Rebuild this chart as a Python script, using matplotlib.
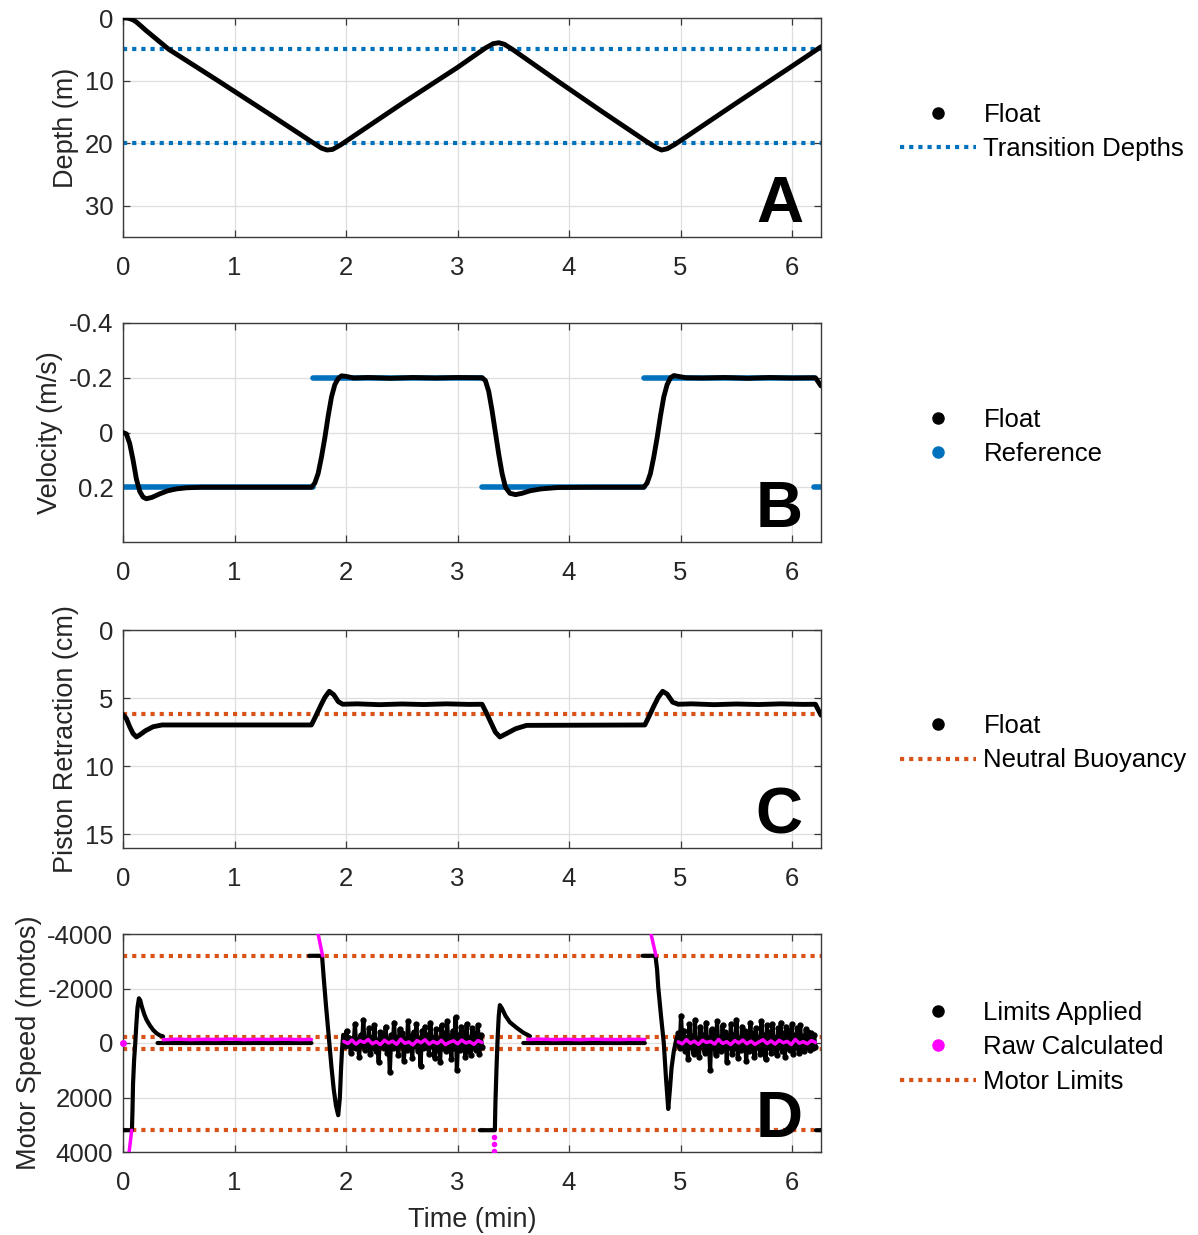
import numpy as np
import matplotlib
matplotlib.use("Agg")
import matplotlib.pyplot as plt
from matplotlib.lines import Line2D

plt.rcParams['font.family'] = ['Liberation Sans', 'DejaVu Sans']
plt.rcParams['axes.unicode_minus'] = False

BLUE = '#0072BD'
ORANGE = '#D95319'
MAGENTA = '#FF00FF'
DARK = '#262626'

# ---------------- Panel A: depth ----------------
depth_t = [0, 0.03, 0.06, 0.09, 0.12, 0.15, 0.2, 0.41, 0.85, 1.3, 1.71, 1.78, 1.83, 1.88, 1.95, 2.05, 2.5, 3.0,
           3.25, 3.32, 3.37, 3.42, 3.5, 3.9, 4.3, 4.7, 4.78, 4.83, 4.88, 4.95, 5.05, 5.5, 6.0, 6.26]
depth_v = [0, 0.0, 0.1, 0.3, 0.65, 1.1, 1.9, 5.0, 10.0, 15.2, 20.0, 20.8, 21.1, 21.0, 20.3, 19.1, 13.7, 7.9,
           4.8, 4.1, 3.95, 4.2, 5.1, 10.1, 15.0, 19.8, 20.7, 21.1, 20.9, 20.2, 19.0, 13.6, 7.7, 4.6]
transition_depths = [5, 20]

# ---------------- Panel B: velocity ----------------
vel_t = [0, 0.03, 0.06, 0.09, 0.12, 0.15, 0.18, 0.21, 0.26, 0.33, 0.40, 0.48, 0.57, 0.7, 1.0, 1.3, 1.69,
         1.72, 1.75, 1.78, 1.81, 1.84, 1.87, 1.90, 1.93, 1.96, 2.0, 2.07, 2.2, 2.4, 2.6, 2.8, 3.0, 3.22,
         3.25, 3.28, 3.31, 3.34, 3.37, 3.40, 3.43, 3.47, 3.52, 3.58, 3.65, 3.75, 3.9, 4.2, 4.5, 4.67,
         4.70, 4.73, 4.76, 4.79, 4.82, 4.85, 4.88, 4.91, 4.94, 4.98, 5.05, 5.2, 5.4, 5.6, 5.8, 6.0, 6.21, 6.26]
vel_v = [0, 0.005, 0.04, 0.10, 0.17, 0.215, 0.236, 0.242, 0.237, 0.224, 0.213, 0.206, 0.202, 0.2, 0.2, 0.2, 0.2,
         0.185, 0.15, 0.09, 0.02, -0.06, -0.13, -0.175, -0.197, -0.207, -0.205, -0.199, -0.201, -0.198, -0.201, -0.199, -0.201, -0.2,
         -0.19, -0.15, -0.08, 0.0, 0.08, 0.15, 0.2, 0.222, 0.227, 0.222, 0.213, 0.206, 0.201, 0.2, 0.2, 0.2,
         0.185, 0.15, 0.09, 0.02, -0.06, -0.13, -0.175, -0.2, -0.208, -0.205, -0.2, -0.199, -0.201, -0.198, -0.201, -0.199, -0.2, -0.17]
ref_start = [0, 1.70, 3.22, 4.67, 6.20]
ref_end = [1.70, 3.22, 4.67, 6.20, 6.26]
ref_v = [0.2, -0.2, 0.2, -0.2, 0.2]

# ---------------- Panel C: piston ----------------
pis_t = [0, 0.03, 0.06, 0.09, 0.12, 0.15, 0.2, 0.27, 0.35, 1.69, 1.73, 1.77, 1.81, 1.85, 1.89, 1.93, 1.97,
         2.1, 2.3, 2.5, 2.7, 2.9, 3.1, 3.22, 3.26, 3.30, 3.34, 3.38, 3.44, 3.52, 3.62, 4.68, 4.72, 4.76, 4.80,
         4.84, 4.88, 4.93, 4.98, 5.1, 5.3, 5.5, 5.7, 5.9, 6.1, 6.21, 6.26]
pis_v = [6.2, 6.5, 7.1, 7.6, 7.85, 7.7, 7.4, 7.1, 6.97, 6.97, 6.3, 5.6, 4.95, 4.5, 4.75, 5.25, 5.45,
         5.42, 5.48, 5.43, 5.47, 5.42, 5.46, 5.45, 6.1, 6.8, 7.5, 7.85, 7.6, 7.25, 7.0, 6.97, 6.3, 5.6, 4.95,
         4.5, 4.7, 5.3, 5.45, 5.42, 5.48, 5.43, 5.47, 5.42, 5.46, 5.45, 6.25]
neutral_buoyancy = 6.17

# ---------------- Panel D: motor speed ----------------
motor_limits = [-3200, -210, 210, 3200]
lim_a_t = [0, 0.08, 0.085, 0.09, 0.10, 0.11, 0.12, 0.13, 0.143, 0.155, 0.17, 0.19, 0.21, 0.24, 0.27, 0.30, 0.33, 0.36]
lim_a_v = [3200, 3200, 2500, 1500, 600, 0, -700, -1300, -1640, -1560, -1320, -1060, -860, -650, -480, -360, -280, -240]
lim_zero1_t = [0.31, 1.69]
lim_b_t = [1.67, 1.785, 1.80, 1.82, 1.85, 1.87, 1.89, 1.91, 1.93, 1.945, 1.955, 1.965, 1.975]
lim_b_v = [-3200, -3200, -2400, -1400, 0, 900, 1700, 2300, 2650, 2000, 1000, 200, -300]
noise1_span = [1.98, 3.22]
noise1 = [-150, 120, -450, 80, -200, 350, -100, 150, -700, 200,
          -120, 500, -300, 100, -850, 250, -150, 90, -550, 400,
          -200, 150, -650, 300, -100, 700, -400, 120, -250, 180,
          -600, 350, -150, 1050, -300, 200, -750, 150, -200, 450,
          -500, 100, -350, 650, -150, 250, -800, 180, -250, 550,
          -400, 120, -700, 300, -150, 850, -450, 200, -600, 150,
          -300, 400, -750, 120, -200, 550, -500, 250, -150, 700,
          -650, 180, -350, 300, -800, 150, -250, 600, -450, 200,
          -950, 1000, -300, 250, -600, 150, -400, 500, -700, 300,
          -200, 450, -550, 150, -350, 250, -650, 400, -300, 150]
lim_c_t = [3.20, 3.335, 3.34, 3.35, 3.36, 3.37, 3.38, 3.40, 3.43, 3.47, 3.53, 3.59, 3.65]
lim_c_v = [3200, 3200, 2200, 900, -200, -1000, -1390, -1260, -1000, -760, -560, -380, -250]
lim_zero2_t = [3.59, 4.68]
lim_d_t = [4.66, 4.775, 4.79, 4.80, 4.825, 4.85, 4.87, 4.89, 4.905, 4.92, 4.94, 4.96]
lim_d_v = [-3200, -3200, -2700, -2060, -1000, 0, 1300, 2420, 1700, 900, 300, -100]
noise2_span = [4.98, 6.21]
noise2 = [-350, 200, -1000, 150, -450, 300, -200, 600, -700, 150,
          -250, 400, -850, 250, -150, 500, -600, 120, -300, 350,
          -750, 200, -200, 1000, -500, 150, -350, 450, -800, 250,
          -150, 300, -650, 180, -400, 700, -250, 150, -700, 400,
          -300, 200, -850, 550, -150, 250, -600, 150, -450, 650,
          -250, 300, -750, 200, -350, 500, -550, 150, -200, 400,
          -800, 250, -300, 600, -650, 150, -400, 350, -700, 200,
          -200, 450, -550, 150, -750, 300, -350, 500, -600, 200,
          -450, 250, -700, 400, -300, 150, -550, 350, -650, 200,
          -250, 300, -500, 150, -400, 250, -350, 200, -300, 150]
lim_e_t = [6.215, 6.26]
lim_e_v = [3200, 3200]

raw_start_t = [0]
raw_start_v = [0]
raw_a_t = [0.026, 0.078]
raw_a_v = [5000, 3200]
raw_flat1_span = [0.36, 1.69]
raw_flat1 = [-120, -140, -125, -135, -130, -145, -125, -135, -130, -140, -125, -130]
raw_b_t = [1.70, 1.79]
raw_b_v = [-5000, -3200]
raw_noise1 = [-60, 20, -110, 40, -80, -20, -130, 30, -50, 60, -100, 0, -70, 50, -140, 10, -40, 70,
              -90, -10, -120, 40, -60, 20, -100, 60, -30, -80, 30, -110, 0, -50, 50, -90, -20]
raw_drop_t = [3.33, 3.33, 3.33]
raw_drop_v = [3450, 3700, 3950]
raw_flat2_span = [3.63, 4.68]
raw_flat2 = [-130, -140, -125, -135, -120, -140, -130, -125, -135, -130]
raw_c_t = [4.68, 4.78]
raw_c_v = [-5000, -3200]
raw_noise2 = [-40, 30, -120, 10, -70, 50, -100, -20, -60, 40, -130, 20, -50, 60, -90, 0, -110, 30,
              -70, 50, -40, -120, 20, -80, 40, -100, -10, -60, 60, -130, 10, -50, 30, -90, -20]

XMAX = 6.26

fig = plt.figure(figsize=(11.98, 12.35), dpi=100)
L, W = 123 / 1198, 698 / 1198
rows = [(18, 237), (323, 542), (630, 848), (934, 1152)]
axes = []
for top, bot in rows:
    ax = fig.add_axes([L, 1 - bot / 1235, W, (bot - top) / 1235])
    axes.append(ax)

TICK_FS = 18.5
LAB_FS = 19.5
LEG_FS = 18.5


def style(ax):
    ax.set_xlim(0, XMAX)
    ax.set_xticks([0, 1, 2, 3, 4, 5, 6])
    ax.grid(True, color='#dedede', lw=0.9)
    ax.set_axisbelow(True)
    for s in ax.spines.values():
        s.set_color('#3a3a3a')
        s.set_linewidth(1.0)
    ax.tick_params(direction='in', top=True, right=True, length=5, width=0.9,
                   colors='#3a3a3a', labelcolor=DARK, labelsize=TICK_FS)
    ax.tick_params(axis='x', pad=14)
    ax.tick_params(axis='y', pad=7)


def letter(ax, s):
    ax.annotate(s, xy=(1, 0), xycoords='axes fraction', xytext=(-18, 15),
                textcoords='offset pixels', ha='right', va='baseline',
                fontsize=47, fontweight='bold', color='black', zorder=10)


def legend(ax, handles, labels):
    ax.legend(handles, labels, loc='center left', bbox_to_anchor=(1.113, 0.48),
              frameon=False, fontsize=LEG_FS, handlelength=2.95, handletextpad=0.3,
              borderaxespad=0, borderpad=0, labelspacing=0.4)


def dot_handle(color):
    return Line2D([], [], color=color, marker='o', linestyle='none', markersize=8)


def dotted_handle(color):
    return Line2D([], [], color=color, lw=3, linestyle=(0, (1, 1.2)), dash_capstyle='butt')


def seg(ts, vs):
    return list(ts) + [np.nan], list(vs) + [np.nan]


# Panel A
ax = axes[0]
style(ax)
for d in transition_depths:
    ax.axhline(d, color=BLUE, lw=3, linestyle=(0, (1, 1.2)), dash_capstyle='butt', zorder=2)
ax.plot(depth_t, depth_v, color='black', lw=3.5, solid_capstyle='round', solid_joinstyle='round', zorder=3)
ax.set_ylim(35, 0)
ax.set_yticks([0, 10, 20, 30])
ax.set_ylabel('Depth (m)', fontsize=LAB_FS, color=DARK)
letter(ax, 'A')
legend(ax, [dot_handle('black'), dotted_handle(BLUE)], ['Float', 'Transition Depths'])

# Panel B
ax = axes[1]
style(ax)
rt, rv = [], []
for a, b, v in zip(ref_start, ref_end, ref_v):
    t_, v_ = seg([a, b], [v, v])
    rt += t_
    rv += v_
ax.plot(rt, rv, color=BLUE, lw=4, solid_capstyle='round', zorder=2)
ax.plot(vel_t, vel_v, color='black', lw=3.5, solid_capstyle='round', solid_joinstyle='round', zorder=3)
ax.set_ylim(0.4, -0.4)
ax.set_yticks([-0.4, -0.2, 0, 0.2])
ax.set_yticklabels(['-0.4', '-0.2', '0', '0.2'])
ax.set_ylabel('Velocity (m/s)', fontsize=LAB_FS, color=DARK)
letter(ax, 'B')
legend(ax, [dot_handle('black'), dot_handle(BLUE)], ['Float', 'Reference'])

# Panel C
ax = axes[2]
style(ax)
ax.axhline(neutral_buoyancy, color=ORANGE, lw=3, linestyle=(0, (1, 1.2)), dash_capstyle='butt', zorder=2)
ax.plot(pis_t, pis_v, color='black', lw=3.5, solid_capstyle='round', solid_joinstyle='round', zorder=3)
ax.set_ylim(16, 0)
ax.set_yticks([0, 5, 10, 15])
ax.set_ylabel('Piston Retraction (cm)', fontsize=LAB_FS, color=DARK)
letter(ax, 'C')
legend(ax, [dot_handle('black'), dotted_handle(ORANGE)], ['Float', 'Neutral Buoyancy'])

# Panel D
ax = axes[3]
style(ax)
for m in motor_limits:
    ax.axhline(m, color=ORANGE, lw=3, linestyle=(0, (1, 1.2)), dash_capstyle='butt', zorder=2)

bt, bv = [], []
n1_t = np.linspace(noise1_span[0], noise1_span[1], len(noise1))
n2_t = np.linspace(noise2_span[0], noise2_span[1], len(noise2))
for ts, vs in [(lim_a_t, lim_a_v), (lim_zero1_t, [0, 0]), (lim_b_t + list(n1_t), lim_b_v + noise1),
               (lim_c_t, lim_c_v), (lim_zero2_t, [0, 0]), (lim_d_t + list(n2_t), lim_d_v + noise2),
               (lim_e_t, lim_e_v)]:
    t_, v_ = seg(ts, vs)
    bt += t_
    bv += v_
ax.plot(bt, bv, color='black', lw=3, solid_capstyle='round', solid_joinstyle='round', zorder=3)
ax.plot(list(n1_t) + list(n2_t), noise1 + noise2, 'o', color='black', markersize=3.5, zorder=3)

mt, mv = [], []
f1_t = np.linspace(raw_flat1_span[0], raw_flat1_span[1], len(raw_flat1))
f2_t = np.linspace(raw_flat2_span[0], raw_flat2_span[1], len(raw_flat2))
rn1_t = np.linspace(noise1_span[0], noise1_span[1], len(raw_noise1))
rn2_t = np.linspace(noise2_span[0], noise2_span[1], len(raw_noise2))
for ts, vs in [(raw_a_t, raw_a_v), (f1_t, raw_flat1), (raw_b_t, raw_b_v), (rn1_t, raw_noise1),
               (f2_t, raw_flat2), (raw_c_t, raw_c_v), (rn2_t, raw_noise2)]:
    t_, v_ = seg(ts, vs)
    mt += t_
    mv += v_
ax.plot(mt, mv, color=MAGENTA, lw=2.5, solid_capstyle='round', zorder=4)
ax.plot(raw_start_t, raw_start_v, 'o', color=MAGENTA, markersize=4, zorder=4, clip_on=False)
ax.plot(raw_drop_t, raw_drop_v, 'o', color=MAGENTA, markersize=3, zorder=4)
ax.set_ylim(4000, -4000)
ax.set_yticks([-4000, -2000, 0, 2000, 4000])
ax.set_ylabel('Motor Speed (motos)', fontsize=LAB_FS, color=DARK)
ax.set_xlabel('Time (min)', fontsize=LAB_FS, color=DARK, labelpad=8)
letter(ax, 'D')
legend(ax, [dot_handle('black'), dot_handle(MAGENTA), dotted_handle(ORANGE)],
       ['Limits Applied', 'Raw Calculated', 'Motor Limits'])

fig.savefig('out.png', dpi=100)
